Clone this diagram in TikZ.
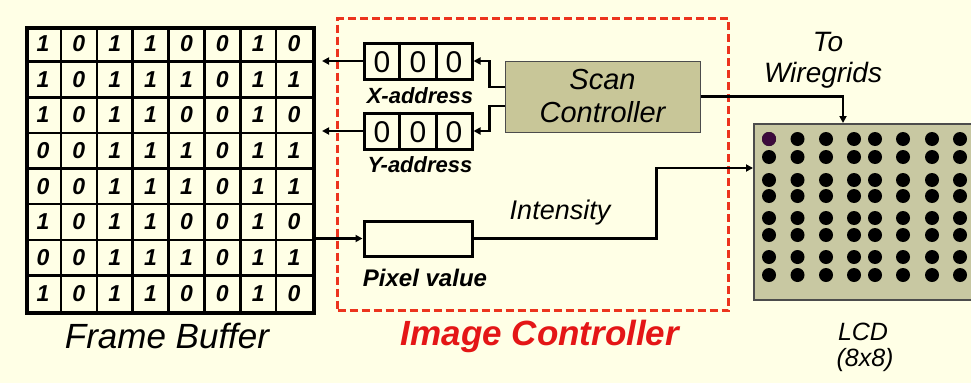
\documentclass[tikz,border=0pt]{standalone}
\usepackage{fontspec}
\setmainfont{Liberation Sans}
\usetikzlibrary{arrows.meta,calc}
\definecolor{bg}{RGB}{255,255,230}
\definecolor{khaki}{RGB}{200,198,152}
\definecolor{lcdk}{RGB}{200,200,162}
\definecolor{redc}{RGB}{236,52,30}
\definecolor{redt}{RGB}{228,22,22}
\definecolor{dotp}{RGB}{60,10,60}
\begin{document}
\begin{tikzpicture}[x=1pt,y=-1pt,
  bit/.style={font=\fontsize{23}{23}\selectfont\bfseries\itshape, inner sep=0pt},
  regbox/.style={draw, line width=3pt, minimum width=108pt, minimum height=36pt, inner sep=0pt},
  regdigit/.style={font=\fontsize{30}{30}\selectfont, inner sep=0pt},
  blabel/.style={font=\fontsize{22}{22}\selectfont\bfseries\itshape, inner sep=0pt},
  ilabel/.style={font=\fontsize{28}{33}\selectfont\itshape, inner sep=0pt, align=center},
  arr/.style={line width=2.5pt, -{Triangle[length=7pt,width=7pt]}},
  wire/.style={line width=2.5pt}]
\fill[bg] (0,0) rectangle (971,383);
\useasboundingbox (0,0) rectangle (971,383);

% Frame buffer
\node[draw, line width=3.5pt, minimum width=287pt, minimum height=285pt, inner sep=0pt, anchor=north west] (fb) at (25,26) {};
\foreach \i in {1,...,7} {
  \draw[line width=2.5pt] (25+\i*35.875,26) -- ++(0,285);
  \draw[line width=2.5pt] (25,26+\i*35.625) -- ++(287,0);
}
\foreach \row [count=\r] in {{1,0,1,1,0,0,1,0},{1,0,1,1,1,0,1,1},{1,0,1,1,0,0,1,0},{0,0,1,1,1,0,1,1},{0,0,1,1,1,0,1,1},{1,0,1,1,0,0,1,0},{0,0,1,1,1,0,1,1},{1,0,1,1,0,0,1,0}} {
  \foreach \b [count=\c] in \row {
    \node[bit] (b\r-\c) at (25+\c*35.875-17.94, 26+\r*35.625-17.81) {\b};
  }
}
\node[font=\fontsize{35}{35}\selectfont\itshape, inner sep=0pt] (fbl) at (167,336) {Frame Buffer};

% Image controller box
\node[draw=redc, line width=3pt, dash pattern=on 8pt off 4pt, minimum width=391pt, minimum height=292pt, inner sep=0pt, anchor=north west] (ic) at (336,17) {};
\node[font=\fontsize{35}{35}\selectfont\bfseries\itshape, text=redt, inner sep=0pt] (icl) at (540,336) {Image Controller};

% Registers
\node[regbox] (xreg) at (418,61) {};
\node[regbox] (yreg) at (418,131) {};
\foreach \R in {xreg,yreg} {
  \draw[line width=3pt] ($(\R.north west)!1/3!(\R.north east)$) -- ($(\R.south west)!1/3!(\R.south east)$);
  \draw[line width=3pt] ($(\R.north west)!2/3!(\R.north east)$) -- ($(\R.south west)!2/3!(\R.south east)$);
}
\node[regdigit] (x1) at (382,62) {0};
\node[regdigit] (x2) at (418,62) {0};
\node[regdigit] (x3) at (454,62) {0};
\node[regdigit] (y1) at (382,132) {0};
\node[regdigit] (y2) at (418,132) {0};
\node[regdigit] (y3) at (454,132) {0};
\node[blabel] (xl) at (420,96) {X-address};
\node[blabel] (yl) at (420,165) {Y-address};

% Scan controller
\node[draw=black!70, line width=1pt, fill=khaki, minimum width=195pt, minimum height=71pt, inner sep=0pt, align=center, font=\fontsize{29}{33}\selectfont\itshape] (scan) at (602.5,96.5) {Scan\\Controller};

% Pixel value
\node[draw, line width=3pt, minimum width=108pt, minimum height=35pt, inner sep=0pt] (pv) at (418,238.5) {};
\node[blabel, font=\fontsize{24}{24}\selectfont\bfseries\itshape] (pvl) at (425,278) {Pixel value};
\node[ilabel, font=\fontsize{27}{27}\selectfont\itshape] (intl) at (560,213) {Intensity};

% LCD
\node[draw=black!70, line width=1.5pt, fill=lcdk, minimum width=240pt, minimum height=176pt, inner sep=0pt, anchor=north west] (lcd) at (753,123) {};
\foreach \xx in {769,797.5,826,854,875,903,932,960} {
  \foreach \yy in {139,157,180,196,218,235,257,275} {
    \fill (\xx,\yy) circle (7);
  }
}
\fill[dotp] (769,139) circle (7);
\node[ilabel] (to) at (828,42) {To};
\node[ilabel] (wg) at (823,75) {Wiregrids};
\node[ilabel, font=\fontsize{25}{25}\selectfont\itshape] (lcdl) at (863,332) {LCD};
\node[ilabel, font=\fontsize{25}{25}\selectfont\itshape] (lcdl2) at (865,360) {(8x8)};

% Connectors
\coordinate (fbx) at (322,0);
\coordinate (wgin) at (843,123);
\draw[arr] ([yshift=9.5pt]scan.west) -- ++(-15,0) |- (xreg.east);
\draw[arr] ([yshift=-9.5pt]scan.west) -- ++(-15,0) |- (yreg.east);
\draw[arr] (xreg.west) -- (xreg.west -| fbx);
\draw[arr] (yreg.west) -- (yreg.west -| fbx);
\draw[arr] (fb.east |- pv.west) -- (pv.west);
\draw[arr] (pv.east) -- ++(183,0) |- (lcd.west |- 0,168);
\draw[arr] (scan.east) -| (wgin);
\end{tikzpicture}
\end{document}
